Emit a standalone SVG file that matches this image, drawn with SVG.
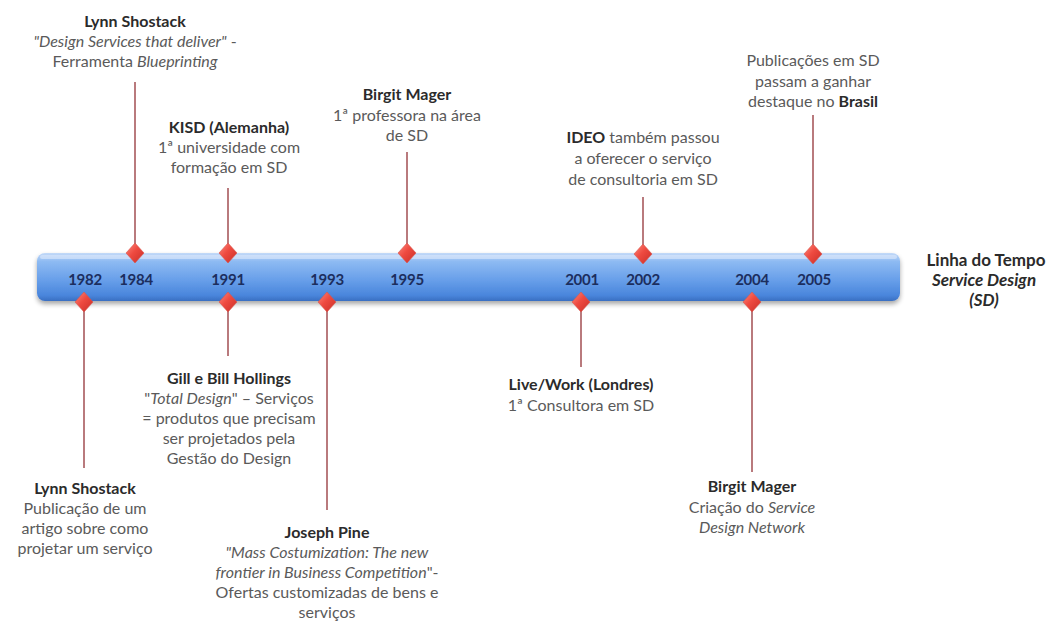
<svg xmlns="http://www.w3.org/2000/svg" width="1056" height="623" viewBox="0 0 1056 623">
  <defs>
    <linearGradient id="barFill" x1="0" y1="0" x2="0" y2="1">
      <stop offset="0" stop-color="#c4daf8"/>
      <stop offset="0.18" stop-color="#8dbaf2"/>
      <stop offset="0.55" stop-color="#69a0ea"/>
      <stop offset="0.88" stop-color="#4a86dc"/>
      <stop offset="1" stop-color="#3a6fc2"/>
    </linearGradient>
    <linearGradient id="gemFill" x1="0" y1="0" x2="1" y2="1">
      <stop offset="0" stop-color="#ff8a7e"/>
      <stop offset="0.45" stop-color="#ee4a40"/>
      <stop offset="1" stop-color="#c92e27"/>
    </linearGradient>
    <filter id="barShadow" x="-5%" y="-30%" width="110%" height="170%">
      <feGaussianBlur in="SourceAlpha" stdDeviation="2.5"/>
      <feOffset dy="3" result="b"/>
      <feComponentTransfer><feFuncA type="linear" slope="0.35"/></feComponentTransfer>
      <feMerge><feMergeNode/><feMergeNode in="SourceGraphic"/></feMerge>
    </filter>
    <polygon id="gem" points="0,-10 9,0 0,10 -9,0"/>
  </defs>
  <style>
    text { font-family: Lato, "Open Sans", "Liberation Sans", sans-serif; font-size: 16px; text-anchor: middle; fill: #5a5a5a; }
    .t { font-weight: bold; fill: #2b2b2b; }
    .i { font-style: italic; }
    .b { font-weight: bold; fill: #2b2b2b; }
    .yr { font-size: 15px; font-weight: bold; fill: #1c2e5e; letter-spacing: -0.3px; }
    .title { font-size: 17px; font-weight: bold; fill: #2b2b2b; }
    .stem { stroke: #b97a7d; stroke-width: 2; fill: none; }
    .gem { fill: url(#gemFill); stroke: #d8564e; stroke-width: 0.6; }
  </style>

  <rect width="1056" height="623" fill="#ffffff"/>

  <!-- timeline bar -->
  <g id="bar">
    <rect x="37" y="253" width="863" height="48" rx="8" fill="url(#barFill)" filter="url(#barShadow)"/>
    <rect x="40" y="255" width="857" height="4" rx="2" fill="#ddeafc" opacity="0.6"/>
    <text class="yr" x="85" y="285">1982</text>
    <text class="yr" x="136" y="285">1984</text>
    <text class="yr" x="228" y="285">1991</text>
    <text class="yr" x="327" y="285">1993</text>
    <text class="yr" x="407" y="285">1995</text>
    <text class="yr" x="582" y="285">2001</text>
    <text class="yr" x="643" y="285">2002</text>
    <text class="yr" x="752" y="285">2004</text>
    <text class="yr" x="814" y="285">2005</text>
  </g>

  <!-- stems joining each event to the bar -->
  <g id="connectors">
    <line class="stem" x1="135" y1="82" x2="135" y2="253"/>
    <line class="stem" x1="228" y1="188" x2="228" y2="253"/>
    <line class="stem" x1="407" y1="152" x2="407" y2="253"/>
    <line class="stem" x1="643" y1="197" x2="643" y2="253"/>
    <line class="stem" x1="813" y1="115" x2="813" y2="253"/>
    <line class="stem" x1="84" y1="301" x2="84" y2="468"/>
    <line class="stem" x1="228" y1="301" x2="228" y2="356"/>
    <line class="stem" x1="327" y1="301" x2="327" y2="510"/>
    <line class="stem" x1="581" y1="301" x2="581" y2="367"/>
    <line class="stem" x1="752" y1="301" x2="752" y2="472"/>
  </g>

  <!-- markers on the bar -->
  <g id="markers">
    <use href="#gem" class="gem" x="135" y="253"/>
    <use href="#gem" class="gem" x="228" y="253"/>
    <use href="#gem" class="gem" x="407" y="253"/>
    <use href="#gem" class="gem" x="643" y="254"/>
    <use href="#gem" class="gem" x="813" y="254"/>
    <use href="#gem" class="gem" x="84" y="302"/>
    <use href="#gem" class="gem" x="228" y="302"/>
    <use href="#gem" class="gem" x="327" y="302"/>
    <use href="#gem" class="gem" x="581" y="302"/>
    <use href="#gem" class="gem" x="752" y="302"/>
  </g>

  <g id="ev1984">
    <text class="t" x="135" y="27">Lynn Shostack</text>
    <text x="135" y="47"><tspan class="i">"Design Services that deliver"</tspan> -</text>
    <text x="135" y="67">Ferramenta <tspan class="i">Blueprinting</tspan></text>
  </g>

  <g id="ev1991a">
    <text class="t" x="229" y="133">KISD (Alemanha)</text>
    <text x="229" y="153">1ª universidade com</text>
    <text x="229" y="173">formação em SD</text>
  </g>

  <g id="ev1995">
    <text class="t" x="407" y="100">Birgit Mager</text>
    <text x="407" y="121">1ª professora na área</text>
    <text x="407" y="141">de SD</text>
  </g>

  <g id="ev2002">
    <text x="643" y="143"><tspan class="b">IDEO</tspan> também passou</text>
    <text x="643" y="164">a oferecer o serviço</text>
    <text x="643" y="185">de consultoria em SD</text>
  </g>

  <g id="ev2005">
    <text x="813" y="66">Publicações em SD</text>
    <text x="813" y="87">passam  a ganhar</text>
    <text x="813" y="107">destaque no <tspan class="b">Brasil</tspan></text>
  </g>

  <g id="heading">
    <text class="title" x="986" y="266">Linha do Tempo</text>
    <text class="title i" x="984" y="286">Service Design</text>
    <text class="title i" x="984" y="306">(SD)</text>
  </g>

  <g id="ev1982">
    <text class="t" x="85" y="494">Lynn Shostack</text>
    <text x="85" y="514">Publicação de um</text>
    <text x="85" y="534">artigo sobre como</text>
    <text x="85" y="554">projetar um serviço</text>
  </g>

  <g id="ev1991b">
    <text class="t" x="229" y="384">Gill e Bill Hollings</text>
    <text x="229" y="404">"<tspan class="i">Total Design</tspan>" – Serviços</text>
    <text x="229" y="424">= produtos que precisam</text>
    <text x="229" y="444">ser projetados pela</text>
    <text x="229" y="464">Gestão do Design</text>
  </g>

  <g id="ev1993">
    <text class="t" x="327" y="538">Joseph Pine</text>
    <text class="i" x="327" y="558">"Mass Costumization: The new</text>
    <text x="327" y="578"><tspan class="i">frontier in Business Competition</tspan>"-</text>
    <text x="327" y="598">Ofertas customizadas de bens e</text>
    <text x="327" y="618">serviços</text>
  </g>

  <g id="ev2001">
    <text class="t" x="581" y="390">Live/Work (Londres)</text>
    <text x="581" y="411">1ª Consultora em SD</text>
  </g>

  <g id="ev2004">
    <text class="t" x="752" y="492">Birgit Mager</text>
    <text x="752" y="513">Criação do <tspan class="i">Service</tspan></text>
    <text class="i" x="752" y="533">Design Network</text>
  </g>
</svg>
